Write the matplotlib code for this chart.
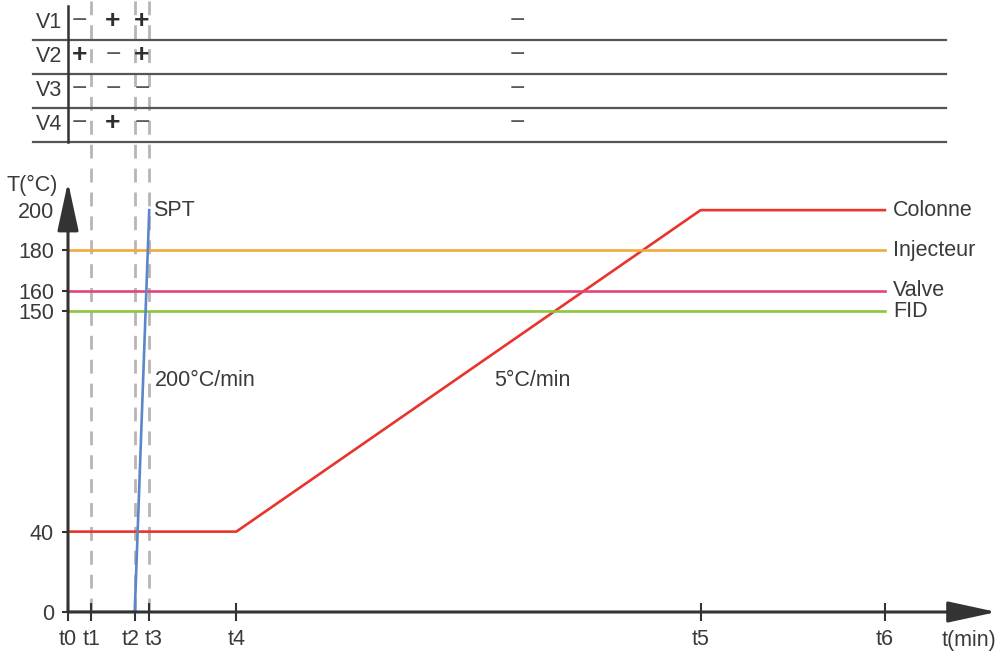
# Programme de température - colonne, injecteur, valve, FID, SPT
import numpy as np
import matplotlib.pyplot as plt
from matplotlib.transforms import ScaledTranslation

plt.rcParams['font.family'] = ['Liberation Sans', 'DejaVu Sans']

# repères de temps (min)
t_ticks = [0, 1.6, 4.6, 5.6, 11.6, 43.6, 56.3]
t_labels = ['t0', 't1', 't2', 't3', 't4', 't5', 't6']
T_ticks = [0, 40, 150, 160, 180, 200]

# profils de température
t_colonne = [0, 11.6, 43.6, 56.3]
T_colonne = [40, 40, 200, 200]
t_spt = [0, 4.6, 5.6]
T_spt = [0, 0, 200]
T_injecteur = 180
T_valve = 160
T_fid = 150

# états des vannes (colonnes : t0-t1, t1-t2, t2-t3, t3-t6)
vannes = ['V1', 'V2', 'V3', 'V4']
etats = [['−', '+', '+', '−'],
         ['+', '−', '+', '−'],
         ['−', '−', '−', '−'],
         ['−', '+', '−', '−']]

txt = '#3a3a3a'
axe = '#333333'
c_col = '#e8342e'
c_inj = '#f2a93b'
c_val = '#e0457d'
c_fid = '#8cc63f'
c_spt = '#5b86c8'

fig = plt.figure(figsize=(9.98, 6.55), dpi=100)
ax = fig.add_axes([68/998, 43/655, 928.6/998, 430/655])
ax.set_xlim(0, 64)
ax.set_ylim(0, 214)
for s in ax.spines.values():
    s.set_visible(False)

# lignes pointillées t1, t2, t3 (jusqu'en haut du tableau)
for t in t_ticks[1:4]:
    ax.axvline(t, ymin=0, ymax=612/430, ls=(0, (5, 3.6)), lw=2,
               color='#bcb3b3', clip_on=False, zorder=1)

ax.plot(t_colonne, T_colonne, color=c_col, lw=1.9, zorder=3)
ax.plot([0, t_ticks[-1]], [T_injecteur]*2, color=c_inj, lw=1.9, zorder=3)
ax.plot([0, t_ticks[-1]], [T_valve]*2, color=c_val, lw=1.9, zorder=3)
ax.plot([0, t_ticks[-1]], [T_fid]*2, color=c_fid, lw=1.9, zorder=3)
ax.plot(t_spt, T_spt, color=c_spt, lw=1.9, zorder=4)

# axes avec flèches
arrow = dict(arrowstyle='-|>,head_length=3.0,head_width=0.65', color=axe,
             lw=2.2, shrinkA=0, shrinkB=0, mutation_scale=10)
ax.annotate('', xy=(64, 0), xytext=(0, 0), arrowprops=arrow, zorder=5,
            annotation_clip=False)
ax.annotate('', xy=(0, 214), xytext=(0, 0), arrowprops=arrow, zorder=5,
            annotation_clip=False)

ax.set_xticks(t_ticks, t_labels)
ax.set_yticks(T_ticks)
ax.tick_params(axis='x', direction='inout', length=13, width=1.5, color=axe,
               labelsize=15.5, labelcolor=txt, pad=6)
ax.tick_params(axis='y', direction='out', length=4, width=1.5, color=axe,
               labelsize=15.5, labelcolor=txt, pad=6)
labs = ax.get_xticklabels()
labs[2].set_transform(labs[2].get_transform() + ScaledTranslation(-0.04, 0, fig.dpi_scale_trans))
labs[3].set_transform(labs[3].get_transform() + ScaledTranslation(0.04, 0, fig.dpi_scale_trans))

ax.annotate('T(°C)', xy=(0, 212.5), xytext=(-7, 0), textcoords='offset points',
            ha='right', va='center', fontsize=15.5, color=txt, annotation_clip=False)
ax.annotate('t(min)', xy=(64, 0), xytext=(0, -13), textcoords='offset points',
            ha='right', va='top', fontsize=15.5, color=txt, annotation_clip=False)

ax.text(5.85, 200, 'SPT', va='center', fontsize=15.5, color=txt)
ax.text(6.0, 115, '200°C/min', va='center', fontsize=15.5, color=txt)
ax.text(29.4, 115, '5°C/min', va='center', fontsize=15.5, color=txt)

for nom, T, dy in [('Colonne', 200, 0), ('Injecteur', 180, 0),
                   ('Valve', 160, 0), ('FID', 150, -1)]:
    ax.annotate(nom, xy=(t_ticks[-1], T), xytext=(6, dy), textcoords='offset points',
                va='center', fontsize=15.5, color=txt, annotation_clip=False)

# tableau des vannes
tab = fig.add_axes([68/998, (655-142)/655, 928.6/998, 136/655])
tab.set_xlim(0, 64)
tab.set_ylim(4, 0)
tab.axis('off')
for i in range(1, 5):
    tab.plot([-2.4, 60.5], [i, i], color='#555555', lw=1.6, clip_on=False)
tab.plot([0, 0], [0, 4], color=axe, lw=1.8, clip_on=False)

x_col = [(t_ticks[0] + t_ticks[1]) / 2, (t_ticks[1] + t_ticks[2]) / 2,
         (t_ticks[2] + t_ticks[3]) / 2, (t_ticks[3] + t_ticks[6]) / 2]
for i, v in enumerate(vannes):
    tab.annotate(v, xy=(0, i + 0.5), xytext=(-4, 0), textcoords='offset points',
                 ha='right', va='center', fontsize=15.5, color=txt, annotation_clip=False)
    for j, s in enumerate(etats[i]):
        if s == '+':
            tab.text(x_col[j], i + 0.45, s, ha='center', va='center',
                     fontsize=19, fontweight='bold', color='#2e2e2e')
        else:
            tab.text(x_col[j], i + 0.45, s, ha='center', va='center',
                     fontsize=19, color='#5a5a5a')

fig.savefig('out.png', dpi=100)
